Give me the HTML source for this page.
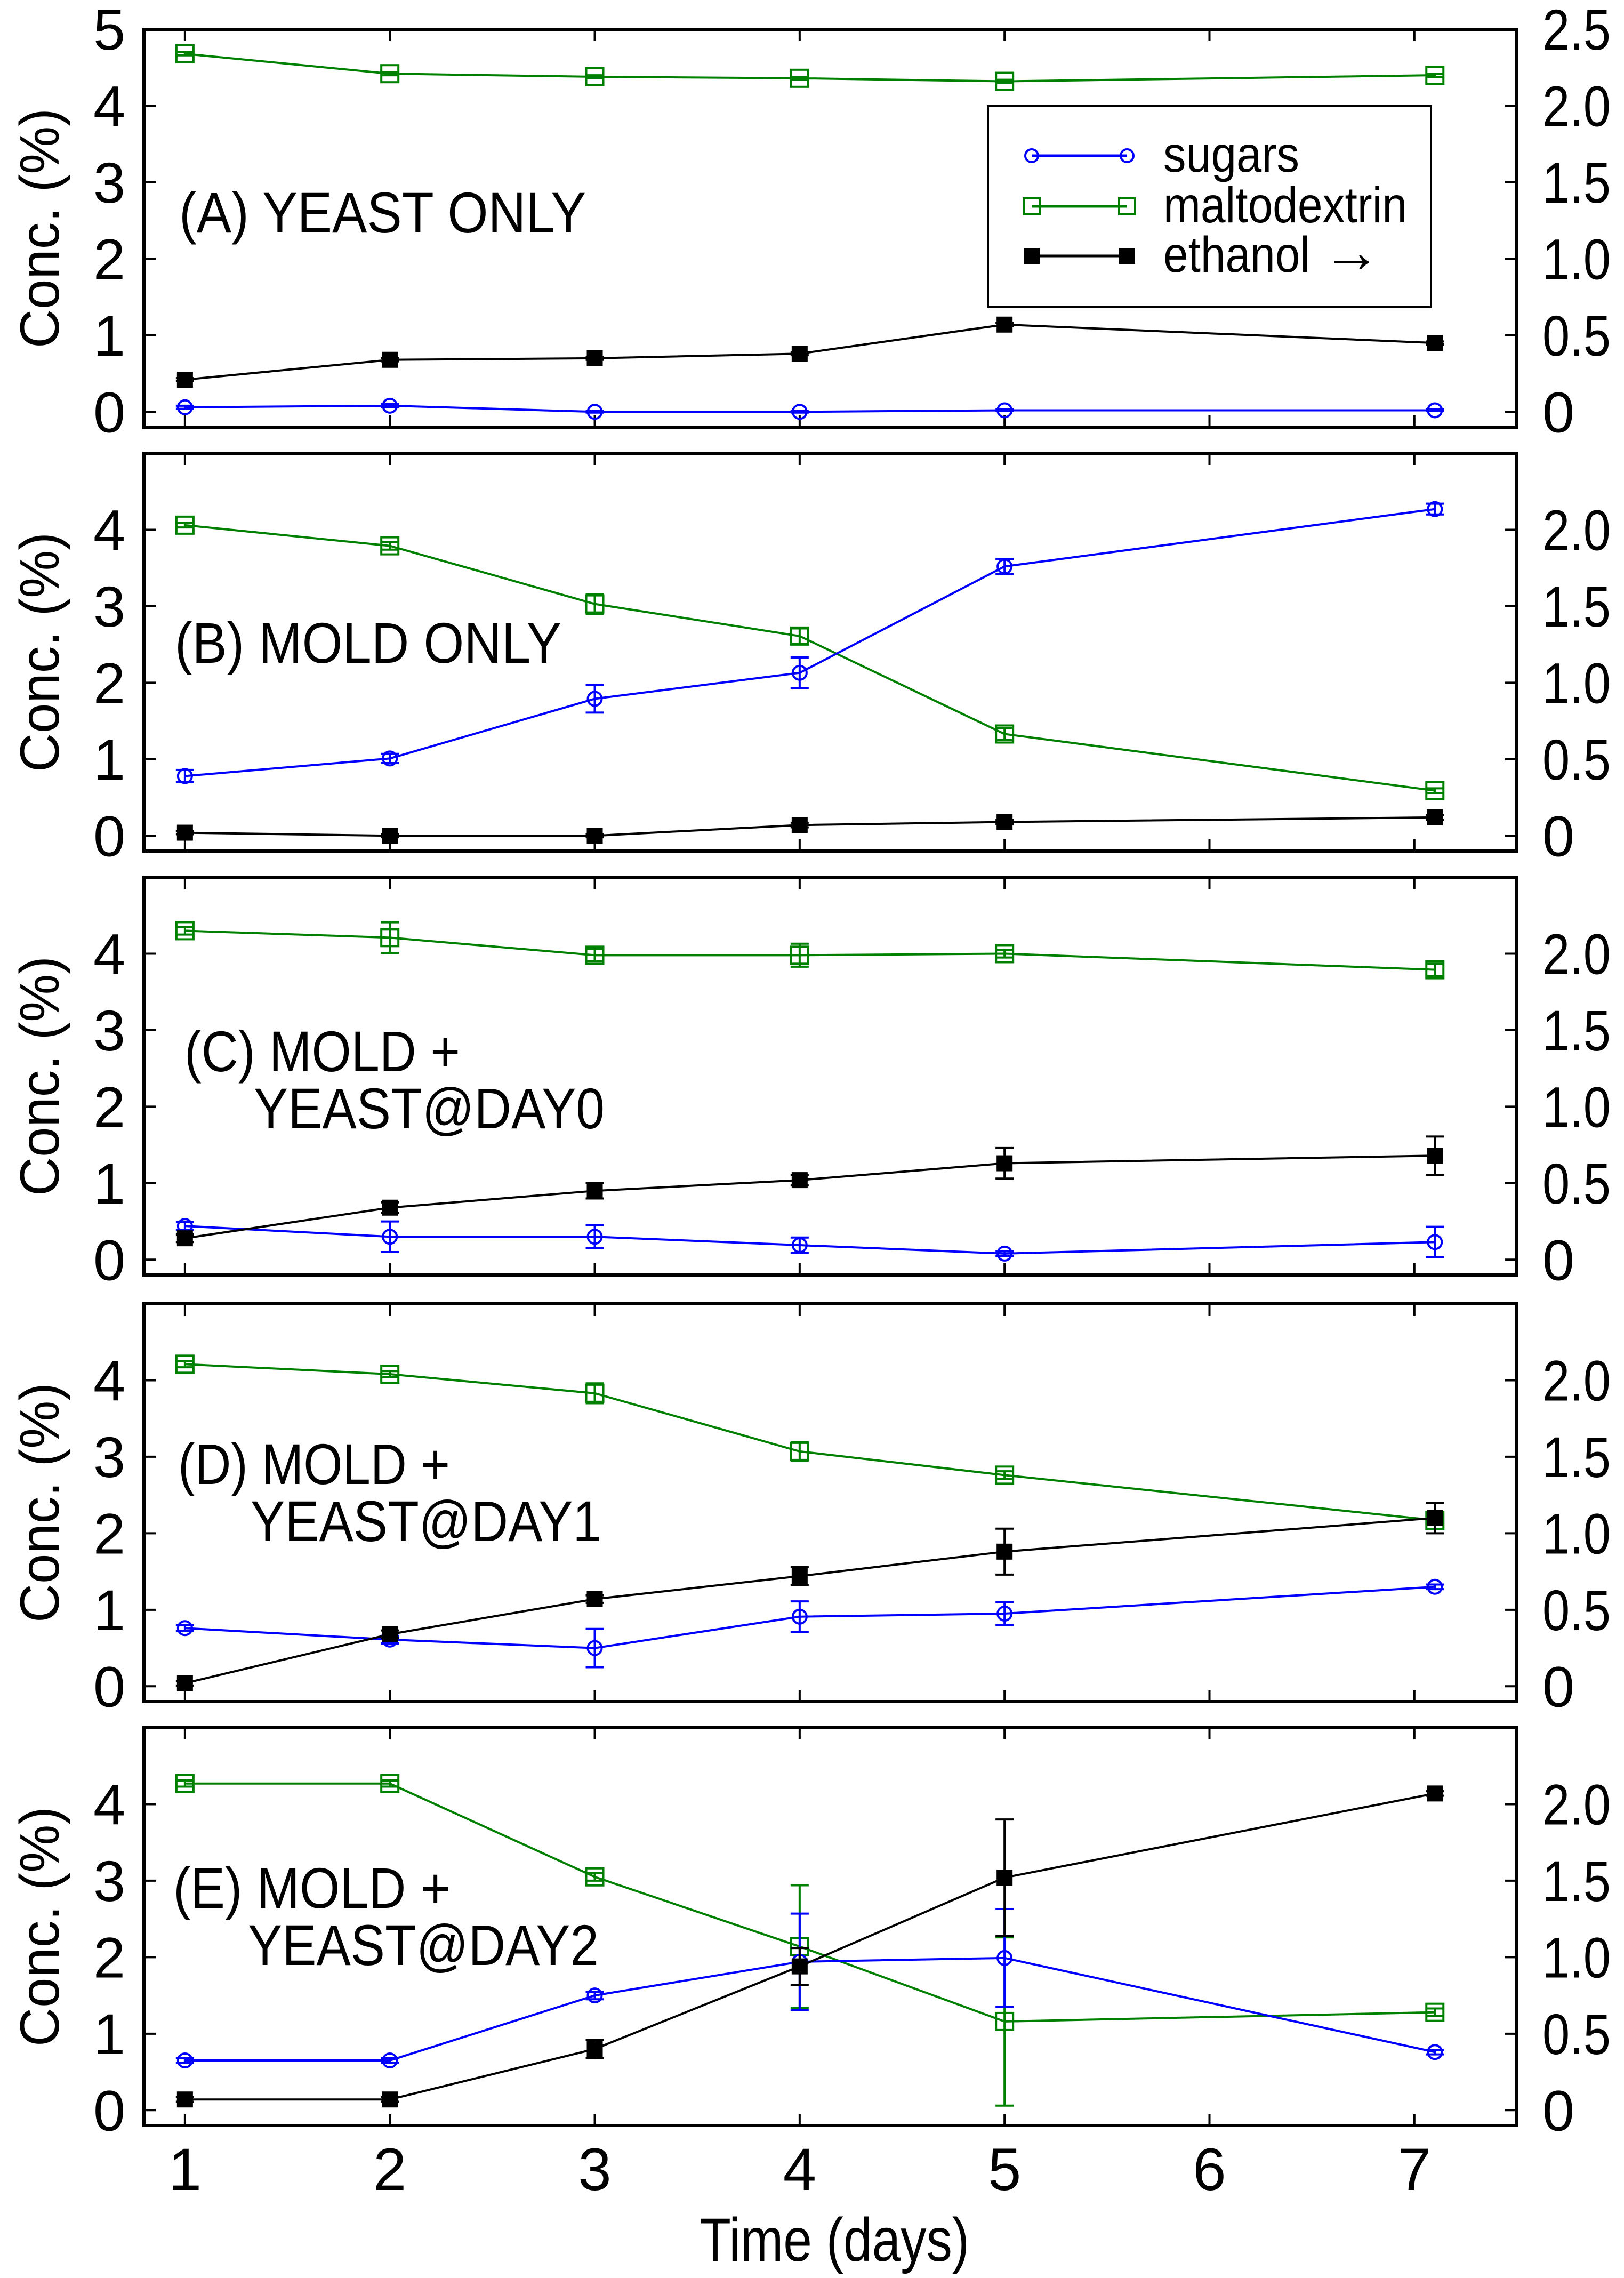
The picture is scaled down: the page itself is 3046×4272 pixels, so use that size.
<!DOCTYPE html>
<html><head><meta charset="utf-8"><style>
html,body{margin:0;padding:0;background:#fff;}
svg{display:block;font-family:"Liberation Sans",Arial,sans-serif;}
</style></head><body>
<svg id="chart" xmlns="http://www.w3.org/2000/svg" width="3046" height="4272" viewBox="0 0 3046 4272"></svg>
<script>
// ---- data ----
const days = [1, 2, 3, 4, 5, 7.1];
const panelLabels1 = ["(A) YEAST ONLY", "(B) MOLD ONLY", "(C) MOLD +", "(D) MOLD +", "(E) MOLD +"];
const panelLabels2 = ["", "", "YEAST@DAY0", "YEAST@DAY1", "YEAST@DAY2"];
// sugars (left axis, %)
const sugarsA = [0.06, 0.08, 0.0, 0.0, 0.02, 0.02];
const sugarsB = [0.78, 1.01, 1.79, 2.13, 3.52, 4.27];
const sugarsC = [0.44, 0.30, 0.30, 0.19, 0.08, 0.23];
const sugarsD = [0.76, 0.61, 0.50, 0.91, 0.95, 1.30];
const sugarsE = [0.65, 0.65, 1.50, 1.94, 1.99, 0.76];
const sugarsErrA = [0.02, 0.02, 0.01, 0.01, 0.01, 0.01];
const sugarsErrB = [0.08, 0.06, 0.18, 0.2, 0.1, 0.07];
const sugarsErrC = [0.05, 0.2, 0.15, 0.1, 0.03, 0.2];
const sugarsErrD = [0.04, 0.05, 0.25, 0.2, 0.15, 0.03];
const sugarsErrE = [0.03, 0.03, 0.05, 0.63, 0.64, 0.03];
// maltodextrin (left axis, %)
const maltoA = [4.68, 4.42, 4.38, 4.36, 4.32, 4.40];
const maltoB = [4.06, 3.79, 3.03, 2.61, 1.33, 0.59];
const maltoC = [4.30, 4.21, 3.98, 3.98, 4.00, 3.79];
const maltoD = [4.21, 4.08, 3.83, 3.07, 2.76, 2.17];
const maltoE = [4.27, 4.27, 3.05, 2.14, 1.16, 1.28];
const maltoErrA = [0.02, 0.02, 0.02, 0.02, 0.02, 0.02];
const maltoErrB = [0.03, 0.05, 0.13, 0.1, 0.08, 0.03];
const maltoErrC = [0.05, 0.2, 0.08, 0.15, 0.05, 0.08];
const maltoErrD = [0.04, 0.04, 0.13, 0.12, 0.05, 0.05];
const maltoErrE = [0.04, 0.04, 0.05, 0.8, 1.1, 0.05];
// ethanol (right axis, %)
const ethA = [0.21, 0.34, 0.35, 0.38, 0.57, 0.45];
const ethB = [0.02, 0.0, 0.0, 0.07, 0.09, 0.12];
const ethC = [0.14, 0.34, 0.45, 0.52, 0.63, 0.68];
const ethD = [0.02, 0.34, 0.57, 0.72, 0.88, 1.10];
const ethE = [0.07, 0.07, 0.40, 0.94, 1.52, 2.07];
const ethErrA = [0.01, 0.01, 0.01, 0.01, 0.01, 0.01];
const ethErrB = [0.01, 0.01, 0.01, 0.015, 0.015, 0.015];
const ethErrC = [0.025, 0.035, 0.05, 0.035, 0.1, 0.125];
const ethErrD = [0.015, 0.025, 0.025, 0.06, 0.15, 0.1];
const ethErrE = [0.015, 0.015, 0.06, 0.12, 0.38, 0.015];
const leftTicksA = [0, 1, 2, 3, 4, 5];
const leftTicks = [0, 1, 2, 3, 4];
const rightTicksA = ["0", "0.5", "1.0", "1.5", "2.0", "2.5"];
const rightTicks = ["0", "0.5", "1.0", "1.5", "2.0"];
const xTicks = [1, 2, 3, 4, 5, 6, 7];

// ---- layout ----
const svg = document.getElementById('chart');
const NS = 'http://www.w3.org/2000/svg';
const L = 270, R = 2845, XMIN = 0.8, XMAX = 7.5;
const YMIN = -0.2, YMAX = 5.0;
const tops = [55, 850, 1645, 2445, 3240];
const PH = 746;
const BLUE = '#0000ff', GREEN = '#008000', BLACK = '#000';
function xs(v) { return L + (v - XMIN) / (XMAX - XMIN) * (R - L); }
function ys(p, v) { return tops[p] + PH - (v - YMIN) / (YMAX - YMIN) * PH; }
function yr(p, v) { return ys(p, v * 2); }
function mk(tag, attrs, parent) {
  const e = document.createElementNS(NS, tag);
  for (const k in attrs) e.setAttribute(k, attrs[k]);
  (parent || svg).appendChild(e);
  return e;
}

const sugars = [sugarsA, sugarsB, sugarsC, sugarsD, sugarsE];
const sugarsErr = [sugarsErrA, sugarsErrB, sugarsErrC, sugarsErrD, sugarsErrE];
const malto = [maltoA, maltoB, maltoC, maltoD, maltoE];
const maltoErr = [maltoErrA, maltoErrB, maltoErrC, maltoErrD, maltoErrE];
const eth = [ethA, ethB, ethC, ethD, ethE];
const ethErr = [ethErrA, ethErrB, ethErrC, ethErrD, ethErrE];
const panelIds = ['a', 'b', 'c', 'd', 'e'];

for (let p = 0; p < 5; p++) {
  const g = mk('g', {});
  
  
  const t = tops[p], b = tops[p] + PH;
  const lt = p === 0 ? leftTicksA : leftTicks;
  lt.forEach(v => {
    const y = ys(p, v);
    const tk = mk('line', { x1: L, x2: L + 22, y1: y, y2: y, stroke: BLACK, 'stroke-width': 4 }, g);
    
    
    const tl = mk('text', { x: 205, y: y + 38, 'font-size': 108, 'text-anchor': 'middle' }, g);
    tl.textContent = v;
    
    
  });
  const rt = p === 0 ? rightTicksA : rightTicks;
  rt.forEach(s => {
    const y = yr(p, parseFloat(s));
    const tk = mk('line', { x1: R - 22, x2: R, y1: y, y2: y, stroke: BLACK, 'stroke-width': 4 }, g);
    
    
    const tl = mk('text', { x: 2893, y: y + 38, 'font-size': 108 }, g);
    if (s.length > 1) tl.setAttribute('textLength', 128);
    tl.setAttribute('lengthAdjust', 'spacingAndGlyphs');
    tl.textContent = s;
    
    
  });
  xTicks.forEach(v => {
    const x = xs(v);
    const tk1 = mk('line', { x1: x, x2: x, y1: b, y2: b - 22, stroke: BLACK, 'stroke-width': 4 }, g);
    
    
    const tk2 = mk('line', { x1: x, x2: x, y1: t, y2: t + 22, stroke: BLACK, 'stroke-width': 4 }, g);
    
    
  });
  const fr = mk('rect', { x: L, y: t, width: R - L, height: PH, fill: 'none', stroke: BLACK, 'stroke-width': 6 }, g);
  
  
  const yt = mk('text', { x: 0, y: 0, 'font-size': 104, 'text-anchor': 'middle', transform: `translate(110,${t + PH / 2}) rotate(-90)`, textLength: 450, lengthAdjust: 'spacingAndGlyphs' }, g);
  yt.textContent = 'Conc. (%)';
  
  
  const lbW1 = [763, 725, 517, 510, 520];
  const lbX1 = [336, 328, 346, 334, 325];
  const lbY1 = [436, 1243, 2009, 2783, 3578];
  const l1 = mk('text', { x: lbX1[p], y: lbY1[p], 'font-size': 108, textLength: lbW1[p], lengthAdjust: 'spacingAndGlyphs' }, g);
  l1.textContent = panelLabels1[p];
  
  
  if (panelLabels2[p]) {
    const lbX2 = [0, 0, 476, 470, 465];
    const l2 = mk('text', { x: lbX2[p], y: lbY1[p] + 107, 'font-size': 108, textLength: 658, lengthAdjust: 'spacingAndGlyphs' }, g);
    l2.textContent = panelLabels2[p];
    
    
  }
  const series = [
    { name: 'maltodextrin', vals: malto[p], errs: maltoErr[p], col: GREEN, f: v => ys(p, v), m: 'sq' },
    { name: 'sugars', vals: sugars[p], errs: sugarsErr[p], col: BLUE, f: v => ys(p, v), m: 'ci' },
    { name: 'ethanol', vals: eth[p], errs: ethErr[p], col: BLACK, f: v => yr(p, v), m: 'fs' },
  ];
  series.forEach(s => {
    const sg = mk('g', {}, g);
    
    
    const pts = s.vals.map((v, i) => xs(days[i]) + ',' + s.f(v)).join(' ');
    const pl = mk('polyline', { points: pts, fill: 'none', stroke: s.col, 'stroke-width': 4 }, sg);
    
    
    s.vals.forEach((v, i) => {
      const x = xs(days[i]), y = s.f(v);
      const y1 = s.f(v + s.errs[i]), y2 = s.f(v - s.errs[i]);
      const eb = mk('path', { d: `M${x},${y1}V${y2}M${x - 17},${y1}H${x + 17}M${x - 17},${y2}H${x + 17}`, stroke: s.col, 'stroke-width': 4, fill: 'none' }, sg);
      
      
      let m;
      if (s.m === 'sq') m = mk('rect', { x: x - 16, y: y - 16, width: 32, height: 32, fill: 'none', stroke: s.col, 'stroke-width': 4 }, sg);
      else if (s.m === 'ci') m = mk('circle', { cx: x, cy: y, r: 13, fill: 'none', stroke: s.col, 'stroke-width': 4 }, sg);
      else m = mk('rect', { x: x - 15, y: y - 15, width: 30, height: 30, fill: s.col }, sg);
      
      
    });
  });
}

xTicks.forEach(v => {
  const tl = mk('text', { x: xs(v), y: 4107, 'font-size': 112, 'text-anchor': 'middle' });
  tl.textContent = v;
  
  
});
const xt = mk('text', { x: 1565, y: 4240, 'font-size': 115, 'text-anchor': 'middle', textLength: 506, lengthAdjust: 'spacingAndGlyphs' });
xt.textContent = 'Time (days)';



const lg = mk('g', {});


const lb = mk('rect', { x: 1853, y: 199, width: 831, height: 377, fill: '#fff', stroke: BLACK, 'stroke-width': 4 }, lg);


const legNames = ['sugars', 'maltodextrin', 'ethanol'];
const legCols = [BLUE, GREEN, BLACK];
const legY = [292, 387, 480];
const legW = [255, 457, 275];
legNames.forEach((n, i) => {
  const e = mk('g', {}, lg);
  
  
  const y = legY[i];
  mk('line', { x1: 1935, x2: 2114, y1: y, y2: y, stroke: legCols[i], 'stroke-width': 5 }, e);
  [1935, 2114].forEach(x => {
    if (i === 0) mk('circle', { cx: x, cy: y, r: 12, fill: 'none', stroke: BLUE, 'stroke-width': 4 }, e);
    else if (i === 1) mk('rect', { x: x - 15, y: y - 15, width: 30, height: 30, fill: 'none', stroke: GREEN, 'stroke-width': 4 }, e);
    else mk('rect', { x: x - 15, y: y - 15, width: 30, height: 30, fill: BLACK }, e);
  });
  const t = mk('text', { x: 2182, y: y + 30, 'font-size': 95, textLength: legW[i], lengthAdjust: 'spacingAndGlyphs' }, e);
  t.textContent = n;
  if (i === 2) {
    const ar = mk('text', { x: 2480, y: y + 30, 'font-size': 110 }, e);
    ar.textContent = '\u2192';
    
    
  }
});
</script>
</body></html>
